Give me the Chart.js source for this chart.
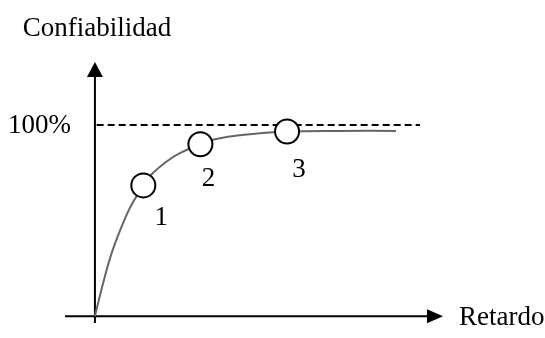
<!DOCTYPE html>
<html>
<head>
<meta charset="utf-8">
<script src="https://cdn.jsdelivr.net/npm/chart.js@4"></script>
<style>
  body { margin: 0; background: #fff; }
</style>
</head>
<body>
<canvas id="relChart" width="545" height="338"></canvas>
<script>
// curve (x = retardo, arbitrary units; y = confiabilidad %)
const curveX = [0, 2.4, 4.8, 7.7, 10.1, 13.9, 16.3, 20.6, 24.4, 30.3, 33.9, 38.8, 44.5, 55.2, 70.4, 86.5];
const curveY = [0, 17.6, 33.0, 47.0, 56.8, 68.4, 74.2, 80.9, 85.3, 89.9, 92.3, 94.0, 95.2, 96.6, 96.9, 96.9];

// marked points
const markX = [13.9, 30.3, 55.2];
const markY = [68.4, 89.9, 96.6];
const markLabels = ['1', '2', '3'];

// reference line
const limitX = [0.5, 93.4];
const limitY = [100, 100];
const limitLabel = '100%';

const yTitle = 'Confiabilidad';
const xTitle = 'Retardo';

function pairs(xs, ys) {
  return xs.map(function (x, i) { return { x: x, y: ys[i] }; });
}

const font = '27px "Liberation Serif", "Times New Roman", serif';

const sketchAxes = {
  id: 'sketchAxes',
  beforeDatasetsDraw(chart) {
    const ctx = chart.ctx;
    const xs = chart.scales.x, ys = chart.scales.y;
    const ox = xs.getPixelForValue(0);
    const oy = ys.getPixelForValue(0);
    const xEnd = xs.getPixelForValue(xs.max);
    const yEnd = ys.getPixelForValue(ys.max);
    ctx.save();
    ctx.strokeStyle = '#000';
    ctx.fillStyle = '#000';
    ctx.lineWidth = 2;
    // x axis
    ctx.beginPath();
    ctx.moveTo(xs.getPixelForValue(xs.min), oy);
    ctx.lineTo(xEnd - 14, oy);
    ctx.stroke();
    ctx.beginPath();
    ctx.moveTo(xEnd, oy);
    ctx.lineTo(xEnd - 16, oy - 7);
    ctx.lineTo(xEnd - 16, oy + 7);
    ctx.closePath();
    ctx.fill();
    // y axis
    ctx.beginPath();
    ctx.moveTo(ox, ys.getPixelForValue(ys.min) - 1);
    ctx.lineTo(ox, yEnd + 20);
    ctx.stroke();
    ctx.beginPath();
    ctx.moveTo(ox, yEnd + 7);
    ctx.lineTo(ox - 8, yEnd + 22);
    ctx.lineTo(ox + 8, yEnd + 22);
    ctx.closePath();
    ctx.fill();
    ctx.restore();
  },
  afterDraw(chart) {
    const ctx = chart.ctx;
    const xs = chart.scales.x, ys = chart.scales.y;
    const ox = xs.getPixelForValue(0);
    const oy = ys.getPixelForValue(0);
    ctx.save();
    ctx.fillStyle = '#000';
    ctx.font = font;
    ctx.textBaseline = 'alphabetic';
    ctx.textAlign = 'center';
    ctx.fillText(yTitle, ox + 2, 36);
    ctx.textBaseline = 'middle';
    ctx.textAlign = 'right';
    ctx.fillText(limitLabel, ox - 24, ys.getPixelForValue(limitY[0]) + 1);
    ctx.textAlign = 'left';
    ctx.fillText(xTitle, xs.getPixelForValue(xs.max) + 16, oy + 2);
    // point numbers sit below and right of each circle
    const offs = [[18, 33], [8, 35], [12, 38]];
    ctx.textAlign = 'center';
    markLabels.forEach(function (t, i) {
      const px = xs.getPixelForValue(markX[i]);
      const py = ys.getPixelForValue(markY[i]);
      ctx.fillText(t, px + offs[i][0], py + offs[i][1]);
    });
    ctx.restore();
  }
};

new Chart(document.getElementById('relChart'), {
  type: 'scatter',
  data: {
    datasets: [{
      data: pairs(markX, markY),
      showLine: false,
      pointRadius: 12,
      pointBorderWidth: 2,
      pointBorderColor: '#000',
      pointBackgroundColor: '#fff',
      order: 0,
      clip: false
    }, {
      data: pairs(curveX, curveY),
      showLine: true,
      borderColor: '#666',
      borderWidth: 2,
      pointRadius: 0,
      tension: 0.4,
      order: 1,
      clip: false
    }, {
      data: pairs(limitX, limitY),
      showLine: true,
      borderColor: '#000',
      borderWidth: 2,
      borderDash: [7, 4],
      pointRadius: 0,
      order: 2,
      clip: false
    }]
  },
  options: {
    responsive: false,
    animation: false,
    layout: { padding: { left: 65, right: 102, top: 55, bottom: 10 } },
    plugins: {
      legend: { display: false },
      tooltip: { enabled: false }
    },
    scales: {
      x: { type: 'linear', min: -8.6, max: 100, display: false },
      y: { type: 'linear', min: -4.1, max: 136.6, display: false }
    }
  },
  plugins: [sketchAxes]
});
</script>
</body>
</html>
